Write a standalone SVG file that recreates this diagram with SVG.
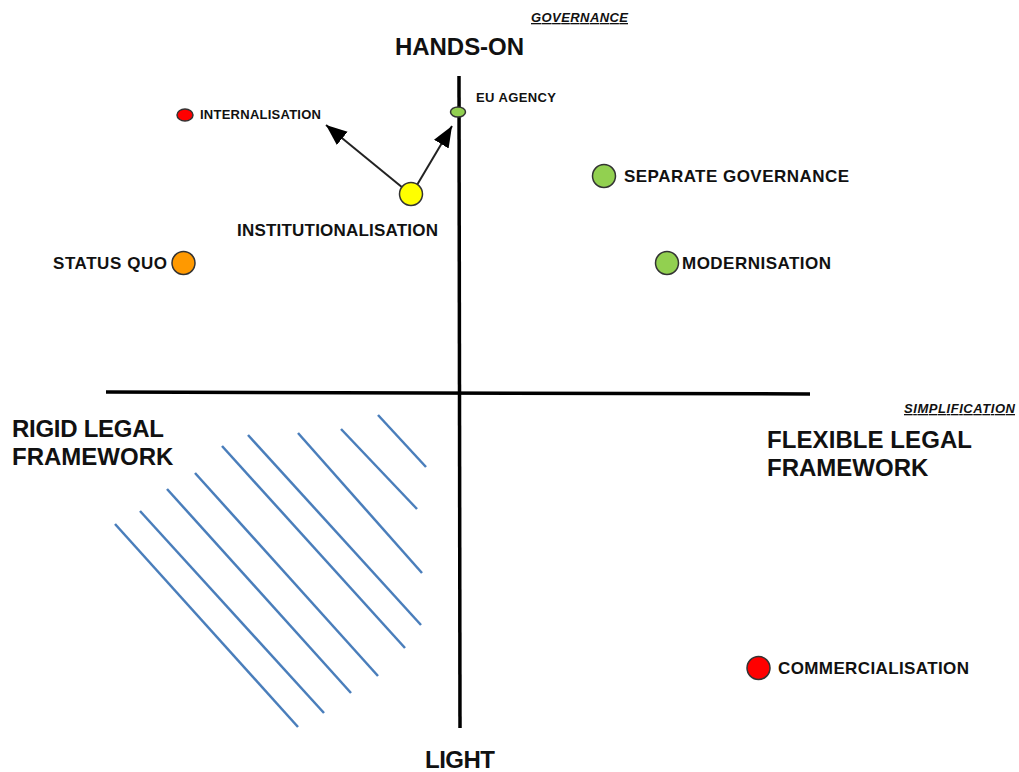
<svg xmlns="http://www.w3.org/2000/svg" width="1019" height="772" viewBox="0 0 1019 772">
<style>
text{font-family:"Liberation Sans",Arial,sans-serif;font-weight:bold;fill:#111}
.axis{stroke:#000;stroke-width:3.5;fill:none}
.hatch{stroke:#4a7ebb;stroke-width:2.5;fill:none}
.node{stroke:#333;stroke-width:1.5}
.conn{stroke:#222;stroke-width:2;fill:none}
.small{font-size:13px}
.mid{font-size:17px}
.big{font-size:24px}
.ax{font-size:13px;font-style:italic;text-decoration:underline}
</style>
<defs>
<marker id="ah" markerUnits="userSpaceOnUse" markerWidth="22" markerHeight="18" refX="21" refY="8.5" orient="auto">
<path d="M0,0 L21,8.5 L0,17 z" fill="#000"/>
</marker>
</defs>
<rect width="1019" height="772" fill="#fff"/>
<g id="axes">
<line class="axis" x1="106" y1="392" x2="810" y2="394"/>
<line class="axis" x1="459" y1="76" x2="460" y2="728"/>
</g>
<g id="hatching">
<line class="hatch" x1="378" y1="415" x2="426" y2="467"/>
<line class="hatch" x1="341" y1="429" x2="417" y2="509"/>
<line class="hatch" x1="298" y1="433" x2="422" y2="573"/>
<line class="hatch" x1="248" y1="435" x2="421" y2="625"/>
<line class="hatch" x1="222" y1="446" x2="405" y2="648"/>
<line class="hatch" x1="195" y1="473" x2="378" y2="676"/>
<line class="hatch" x1="167" y1="489" x2="351" y2="693"/>
<line class="hatch" x1="140" y1="511" x2="324" y2="713"/>
<line class="hatch" x1="115" y1="524" x2="298" y2="727"/>
</g>
<g id="axis-labels">
<text class="ax" x="531" y="22" textLength="97">GOVERNANCE</text>
<text class="big" x="395" y="55" textLength="129">HANDS-ON</text>
<text class="ax" x="904" y="413" textLength="111">SIMPLIFICATION</text>
<text class="big" x="767" y="448" textLength="205">FLEXIBLE LEGAL</text>
<text class="big" x="767" y="476">FRAMEWORK</text>
<text class="big" x="12" y="437" textLength="152">RIGID LEGAL</text>
<text class="big" x="12" y="465">FRAMEWORK</text>
<text class="big" x="425" y="768" textLength="70">LIGHT</text>
</g>
<g id="connectors">
<line class="conn" x1="403" y1="188" x2="326" y2="125" marker-end="url(#ah)"/>
<line class="conn" x1="417" y1="185" x2="452" y2="126" marker-end="url(#ah)"/>
</g>
<g id="internalisation">
<ellipse class="node" cx="185" cy="115" rx="8" ry="6" fill="#ff0000"/>
<text class="small" x="200" y="119" textLength="121">INTERNALISATION</text>
</g>
<g id="eu-agency">
<ellipse class="node" cx="458" cy="112" rx="7.5" ry="5" fill="#92d050"/>
<text class="small" x="476" y="102" textLength="80">EU AGENCY</text>
</g>
<g id="institutionalisation">
<circle class="node" cx="411" cy="194" r="11.5" fill="#ffff00"/>
<text class="mid" x="237" y="236" textLength="201">INSTITUTIONALISATION</text>
</g>
<g id="separate-governance">
<circle class="node" cx="604" cy="176" r="11.5" fill="#92d050"/>
<text class="mid" x="624" y="182" textLength="225">SEPARATE GOVERNANCE</text>
</g>
<g id="modernisation">
<circle class="node" cx="667" cy="263" r="11.5" fill="#92d050"/>
<text class="mid" x="682" y="269" textLength="149">MODERNISATION</text>
</g>
<g id="status-quo">
<circle class="node" cx="183.5" cy="263" r="11.5" fill="#ff9900"/>
<text class="mid" x="53" y="269" textLength="114">STATUS QUO</text>
</g>
<g id="commercialisation">
<circle class="node" cx="758.5" cy="668" r="11.5" fill="#ff0000"/>
<text class="mid" x="778" y="674" textLength="191">COMMERCIALISATION</text>
</g>
</svg>
